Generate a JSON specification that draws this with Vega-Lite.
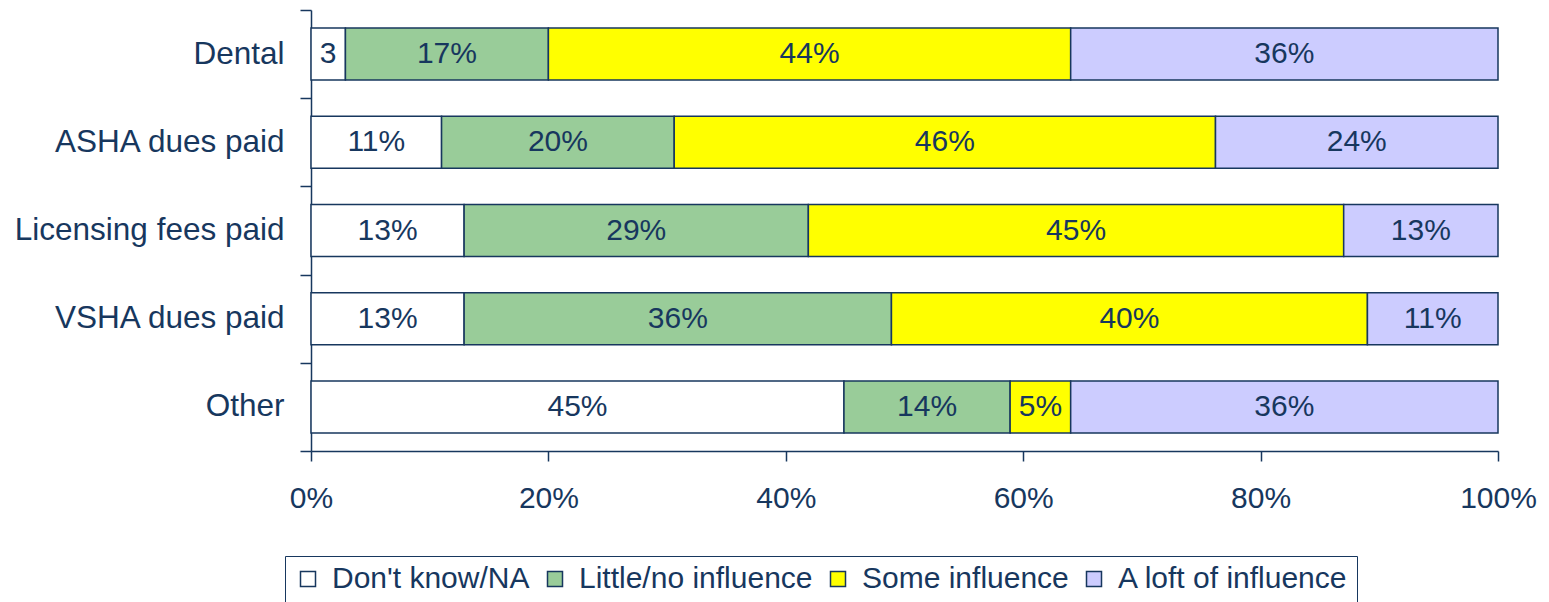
{
  "$schema": "https://vega.github.io/schema/vega-lite/v6.json",
  "width": 1187,
  "height": 441,
  "autosize": {"type": "none"},
  "padding": {"left": 311, "top": 10, "right": 51, "bottom": 151},
  "background": "white",
  "config": {"view": {"stroke": null}, "font": "Liberation Sans"},
  "data": {
    "values": [
      {"item": "Dental", "response": "Don't know/NA", "order": 1, "value": 2.9, "label": "3"},
      {"item": "Dental", "response": "Little/no influence", "order": 2, "value": 17.1, "label": "17%"},
      {"item": "Dental", "response": "Some influence", "order": 3, "value": 44.0, "label": "44%"},
      {"item": "Dental", "response": "A loft of influence", "order": 4, "value": 36.0, "label": "36%"},
      {"item": "ASHA dues paid", "response": "Don't know/NA", "order": 1, "value": 11.0, "label": "11%"},
      {"item": "ASHA dues paid", "response": "Little/no influence", "order": 2, "value": 19.6, "label": "20%"},
      {"item": "ASHA dues paid", "response": "Some influence", "order": 3, "value": 45.6, "label": "46%"},
      {"item": "ASHA dues paid", "response": "A loft of influence", "order": 4, "value": 23.8, "label": "24%"},
      {"item": "Licensing fees paid", "response": "Don't know/NA", "order": 1, "value": 12.9, "label": "13%"},
      {"item": "Licensing fees paid", "response": "Little/no influence", "order": 2, "value": 29.0, "label": "29%"},
      {"item": "Licensing fees paid", "response": "Some influence", "order": 3, "value": 45.1, "label": "45%"},
      {"item": "Licensing fees paid", "response": "A loft of influence", "order": 4, "value": 13.0, "label": "13%"},
      {"item": "VSHA dues paid", "response": "Don't know/NA", "order": 1, "value": 12.9, "label": "13%"},
      {"item": "VSHA dues paid", "response": "Little/no influence", "order": 2, "value": 36.0, "label": "36%"},
      {"item": "VSHA dues paid", "response": "Some influence", "order": 3, "value": 40.1, "label": "40%"},
      {"item": "VSHA dues paid", "response": "A loft of influence", "order": 4, "value": 11.0, "label": "11%"},
      {"item": "Other", "response": "Don't know/NA", "order": 1, "value": 44.9, "label": "45%"},
      {"item": "Other", "response": "Little/no influence", "order": 2, "value": 14.0, "label": "14%"},
      {"item": "Other", "response": "Some influence", "order": 3, "value": 5.1, "label": "5%"},
      {"item": "Other", "response": "A loft of influence", "order": 4, "value": 36.0, "label": "36%"}
    ]
  },
  "transform": [
    {"stack": "value", "groupby": ["item"], "sort": [{"field": "order"}], "as": ["x0", "x1"]},
    {"calculate": "(datum.x0 + datum.x1) / 2", "as": "xm"}
  ],
  "encoding": {
    "y": {
      "field": "item",
      "type": "nominal",
      "sort": ["Dental", "ASHA dues paid", "Licensing fees paid", "VSHA dues paid", "Other"],
      "scale": {"paddingInner": 0, "paddingOuter": 0},
      "axis": {
        "title": null,
        "tickBand": "extent",
        "tickSize": 11,
        "tickWidth": 1.5,
        "tickColor": "#17375e",
        "domainColor": "#17375e",
        "domainWidth": 1.5,
        "labelFontSize": 31.5,
        "labelColor": "#17375e",
        "labelPadding": 16,
        "labelLimit": 1000
      }
    }
  },
  "layer": [
    {
      "mark": {"type": "bar", "stroke": "#17375e", "strokeWidth": 1.5, "height": {"band": 0.59}},
      "encoding": {
        "x": {
          "field": "x0",
          "type": "quantitative",
          "scale": {"domain": [0, 100], "nice": false},
          "axis": {
            "title": null,
            "values": [0, 20, 40, 60, 80, 100],
            "labelExpr": "datum.value + '%'",
            "grid": false,
            "labelFlush": false,
            "labelOverlap": false,
            "tickSize": 10,
            "tickWidth": 1.5,
            "tickColor": "#17375e",
            "domainColor": "#17375e",
            "domainWidth": 1.5,
            "labelFontSize": 30,
            "labelColor": "#17375e",
            "labelPadding": 22
          }
        },
        "x2": {"field": "x1"},
        "color": {
          "field": "response",
          "type": "nominal",
          "scale": {
            "domain": ["Don't know/NA", "Little/no influence", "Some influence", "A loft of influence"],
            "range": ["#ffffff", "#99cc99", "#ffff00", "#ccccff"]
          },
          "legend": {
            "title": null,
            "orient": "none",
            "legendX": -26,
            "legendY": 546,
            "direction": "horizontal",
            "columns": 4,
            "symbolType": "square",
            "symbolSize": 225,
            "symbolStrokeColor": "#17375e",
            "symbolStrokeWidth": 1.5,
            "symbolOpacity": 1,
            "labelFontSize": 30,
            "labelColor": "#17375e",
            "labelLimit": 1000,
            "labelOffset": 9,
            "columnPadding": 10,
            "strokeColor": "#17375e",
            "fillColor": "white",
            "padding": 8
          }
        }
      }
    },
    {
      "mark": {"type": "text", "fontSize": 30, "color": "#17375e", "baseline": "middle"},
      "encoding": {
        "x": {"field": "xm", "type": "quantitative"},
        "text": {"field": "label"}
      }
    }
  ]
}
